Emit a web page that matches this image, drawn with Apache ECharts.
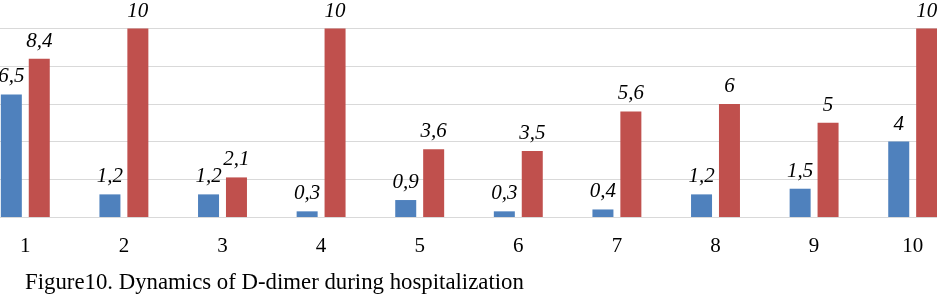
<!DOCTYPE html>
<html>
<head>
<meta charset="utf-8">
<script src="https://cdn.jsdelivr.net/npm/echarts@6/dist/echarts.min.js"></script>
<style>html,body{margin:0;padding:0;background:#fff;overflow:hidden;width:937px;height:295px}#c{position:absolute;left:-24px;top:0;width:986px;height:295px}</style>
</head>
<body>
<div id="c"></div>
<script>
const categories = ['1','2','3','4','5','6','7','8','9','10'];
const seriesBlue = [6.5, 1.2, 1.2, 0.3, 0.9, 0.3, 0.4, 1.2, 1.5, 4];
const seriesRed = [8.4, 10, 2.1, 10, 3.6, 3.5, 5.6, 6, 5, 10];
const caption = 'Figure10. Dynamics of D-dimer during hospitalization';

const chart = echarts.init(document.getElementById('c'), null, {renderer: 'canvas'});
const labelStyle = {
  show: true,
  position: 'top',
  distance: 7,
  fontFamily: 'Liberation Serif',
  fontStyle: 'italic',
  fontSize: 21,
  color: '#000',
  formatter: p => String(p.value).replace('.', ',')
};
chart.setOption({
  animation: false,
  title: {
    text: caption,
    left: 44,
    top: 267,
    textStyle: {fontFamily: 'Liberation Serif', fontWeight: 'normal', fontSize: 22.8, color: '#000'}
  },
  grid: {left: 0, right: 0, top: 28.5, bottom: 78, containLabel: false},
  xAxis: {
    type: 'category',
    data: categories,
    axisTick: {show: false},
    axisLine: {show: true, lineStyle: {color: '#d9d9d9', width: 1}},
    axisLabel: {fontFamily: 'Liberation Serif', fontSize: 21, color: '#000', margin: 19}
  },
  yAxis: {
    type: 'value',
    min: 0, max: 10, interval: 2,
    axisLabel: {show: false},
    axisLine: {show: false},
    axisTick: {show: false},
    splitLine: {show: true, lineStyle: {color: '#d9d9d9', width: 1}}
  },
  series: [
    {type: 'bar', data: seriesBlue, barWidth: 21, barGap: '33%', itemStyle: {color: '#4f81bd'}, label: labelStyle},
    {type: 'bar', data: seriesRed, barWidth: 21, itemStyle: {color: '#c0504d'}, label: labelStyle}
  ]
});
</script>
</body>
</html>
